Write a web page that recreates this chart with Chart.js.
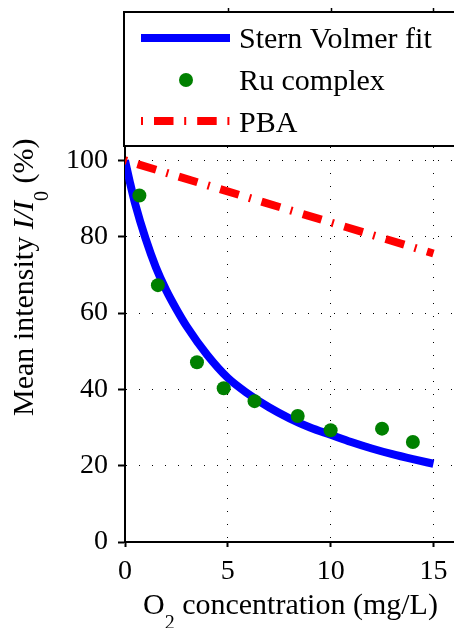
<!DOCTYPE html>
<html>
<head>
<meta charset="utf-8">
<script src="https://cdn.jsdelivr.net/npm/chart.js@4.4.0/dist/chart.umd.min.js"></script>
<style>
  html, body { margin: 0; padding: 0; background: #fff; }
  canvas { display: block; }
</style>
</head>
<body>
<canvas id="myChart" width="454" height="628"></canvas>
<script>
// axis ticks
var xTicks = [0, 5, 10, 15];
var xTickLabels = ["0", "5", "10", "15"];
var yTicks = [0, 20, 40, 60, 80, 100];
var yTickLabels = ["0", "20", "40", "60", "80", "100"];

// Stern Volmer fit
var fitX = [0, 0.25, 0.5, 1, 1.5, 2, 2.5, 3, 4, 5, 6, 7, 8, 9, 10, 11, 12, 13, 14, 15];
var fitY = [100, 94, 88.5, 79.5, 72, 66, 61, 56.5, 49, 43, 38.8, 35.3, 32.4, 30, 28.1, 26.2, 24.5, 23, 21.7, 20.5];

// Ru complex measurements
var ruX = [0.7, 1.6, 3.5, 4.8, 6.3, 8.4, 10.0, 12.5, 14.0];
var ruY = [90.8, 67.3, 47.1, 40.3, 36.9, 33.0, 29.3, 29.7, 26.2];

// PBA
var pbaX = [0, 15];
var pbaY = [100, 75.6];

var seriesNames = ["Stern Volmer fit", "Ru complex", "PBA"];

function pts(xs, ys) {
    return xs.map(function(x, i) { return {x: x, y: ys[i]}; });
}

var serif = "'Liberation Serif', 'Times New Roman', serif";

function drawRich(ctx, parts, x, y) {
    var cx = x;
    parts.forEach(function(p) {
        ctx.font = p.font;
        ctx.fillText(p.text, cx, y + (p.dy || 0));
        cx += ctx.measureText(p.text).width;
    });
}

var extras = {
    id: "extras",
    afterDraw: function(chart) {
        var ctx = chart.ctx;
        var xs = chart.scales.x;
        ctx.save();
        ctx.fillStyle = "#000";
        ctx.textBaseline = "alphabetic";
        ctx.textAlign = "left";

        // x title
        drawRich(ctx, [
            {text: "O", font: "30px " + serif},
            {text: "2", font: "20px " + serif, dy: 15},
            {text: " concentration (mg/L)", font: "30px " + serif}
        ], 143, 614);

        // y title
        ctx.save();
        ctx.translate(33, 416);
        ctx.rotate(-Math.PI / 2);
        drawRich(ctx, [
            {text: "Mean intensity ", font: "30px " + serif},
            {text: "I/I", font: "italic 30px " + serif},
            {text: "0", font: "20px " + serif, dy: 15},
            {text: " (%)", font: "30px " + serif}
        ], 0, 0);
        ctx.restore();

        // legend box
        ctx.strokeStyle = "#000";
        ctx.lineWidth = 2;
        ctx.strokeRect(124, 12, 340, 134);
        ctx.lineWidth = 1.5;
        xTicks.slice(1).forEach(function(v) {
            var px = Math.round(xs.getPixelForValue(v)) + 0.5;
            ctx.beginPath();
            ctx.moveTo(px, 8);
            ctx.lineTo(px, 12);
            ctx.stroke();
        });

        var ds = chart.data.datasets;
        var rows = [38, 80, 121];
        var base = [48, 90, 132];
        ds.forEach(function(d, i) {
            var y = rows[i];
            if (d.showLine) {
                ctx.save();
                ctx.strokeStyle = d.borderColor;
                ctx.lineWidth = d.borderWidth;
                ctx.lineCap = "butt";
                ctx.setLineDash(d.borderDash || []);
                ctx.beginPath();
                ctx.moveTo(141, y);
                ctx.lineTo(230, y);
                ctx.stroke();
                ctx.restore();
            } else {
                ctx.fillStyle = d.pointBackgroundColor;
                ctx.beginPath();
                ctx.arc(186, y, d.pointRadius, 0, Math.PI * 2);
                ctx.fill();
            }
            ctx.fillStyle = "#000";
            ctx.font = "30px " + serif;
            ctx.fillText(d.label, 239, base[i]);
        });
        ctx.restore();
    }
};

new Chart("myChart", {
    type: "scatter",
    data: {
        datasets: [{
            label: seriesNames[0],
            data: pts(fitX, fitY),
            showLine: true,
            borderColor: "#0000ff",
            borderWidth: 8,
            borderCapStyle: "butt",
            cubicInterpolationMode: "monotone",
            pointRadius: 0,
            order: 3
        }, {
            label: seriesNames[1],
            data: pts(ruX, ruY),
            showLine: false,
            pointRadius: 7,
            pointBorderWidth: 0,
            pointBackgroundColor: "#008000",
            pointBorderColor: "#008000",
            order: 2
        }, {
            label: seriesNames[2],
            data: pts(pbaX, pbaY),
            showLine: true,
            borderColor: "#ff0000",
            borderWidth: 8,
            borderCapStyle: "butt",
            borderDash: [2, 11, 19.5, 10.7],
            pointRadius: 0,
            order: 1
        }]
    },
    options: {
        responsive: false,
        animation: false,
        layout: {autoPadding: false, padding: {top: 147, left: 0, right: 0, bottom: 0}},
        plugins: {legend: {display: false}, tooltip: {enabled: false}},
        scales: {
            x: {
                type: "linear",
                min: 0,
                max: 16,
                afterBuildTicks: function(s) { s.ticks = xTicks.map(function(v) { return {value: v}; }); },
                afterFit: function(s) { s.height = 86; s.paddingLeft = 0; s.paddingRight = 0; },
                ticks: {
                    color: "#000",
                    padding: 8,
                    font: {family: serif, size: 28},
                    callback: function(v, i) { return xTickLabels[i]; }
                },
                grid: {color: "#000", lineWidth: 1, tickLength: 5, tickWidth: 2, tickColor: "#000"},
                border: {color: "#000", width: 2, dash: [1, 12]}
            },
            y: {
                type: "linear",
                min: 0,
                max: 103.5,
                afterBuildTicks: function(s) { s.ticks = yTicks.map(function(v) { return {value: v}; }); },
                afterFit: function(s) { s.width = 125; s.paddingTop = 0; s.paddingBottom = 0; },
                ticks: {
                    color: "#000",
                    padding: 10,
                    font: {family: serif, size: 28},
                    callback: function(v, i) { return yTickLabels[i]; }
                },
                grid: {color: "#000", lineWidth: 1, tickLength: 7, tickWidth: 2, tickColor: "#000"},
                border: {color: "#000", width: 2, dash: [1, 12]}
            }
        }
    },
    plugins: [extras]
});
</script>
</body>
</html>
